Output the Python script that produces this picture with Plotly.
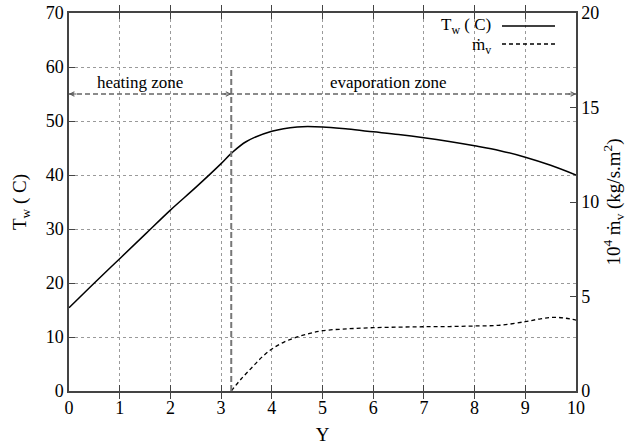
import plotly.graph_objects as go

# Wall temperature T_w (left axis, C)
tw_x = [0, 0.5, 1, 1.5, 2, 2.5, 3, 3.2, 3.5, 4, 4.5, 5, 5.5, 6, 6.5, 7, 7.5, 8, 8.5, 9, 9.5, 10]
tw_y = [15.4, 20.0, 24.5, 29.0, 33.5, 37.7, 42.1, 44.0, 46.2, 48.1, 48.9, 48.9, 48.5, 48.0, 47.5, 46.9, 46.2, 45.4, 44.5, 43.3, 41.8, 40.0]

# Evaporation rate 10^4 m_v (right axis)
mv_x = [3.2, 3.4, 3.6, 3.8, 4.0, 4.25, 4.5, 4.75, 5.0, 5.5, 6.0, 6.5, 7.0, 7.5, 8.0, 8.5, 9.0, 9.3, 9.55, 9.8, 10]
mv_y = [0, 0.65, 1.22, 1.78, 2.22, 2.6, 2.86, 3.05, 3.19, 3.29, 3.35, 3.38, 3.40, 3.41, 3.44, 3.48, 3.67, 3.82, 3.90, 3.85, 3.75]

x_ticks = list(range(0, 11))
left_ticks = list(range(0, 71, 10))
right_ticks = [0, 5, 10, 15, 20]

zone_boundary = 3.2
zone_y = 55
zone_labels = ["heating zone", "evaporation zone"]
zone_label_x = [1.4, 6.31]

FONT = "Liberation Serif, Times New Roman, DejaVu Serif, serif"
GRID = "#9a9a9a"
AXIS = "#444444"

fig = go.Figure()
fig.add_trace(go.Scatter(x=tw_x, y=tw_y, mode="lines", line=dict(color="black", width=1.5, shape="spline"),
                         showlegend=False, yaxis="y"))
fig.add_trace(go.Scatter(x=mv_x, y=mv_y, mode="lines", line=dict(color="black", width=1.3, dash="4px,3px", shape="spline"),
                         showlegend=False, yaxis="y2"))

# zone markers
fig.add_shape(type="line", x0=zone_boundary, x1=zone_boundary, y0=0, y1=59.6, xref="x", yref="y",
              line=dict(color="#777777", width=2, dash="6px,3px"))
fig.add_shape(type="line", x0=0, x1=10, y0=zone_y, y1=zone_y, xref="x", yref="y",
              line=dict(color="#666666", width=1.3, dash="5px,3px"))
for xh, ax in [(0, 9), (zone_boundary, -9), (10, -9)]:
    fig.add_annotation(x=xh, y=zone_y, xref="x", yref="y", ax=ax, ay=0, text="", showarrow=True,
                       arrowhead=5, arrowsize=0.8, arrowwidth=1.1, arrowcolor="#555555")
for lbl, lx in zip(zone_labels, zone_label_x):
    fig.add_annotation(x=lx, y=zone_y, xref="x", yref="y", text=lbl, showarrow=False, yanchor="bottom",
                       yshift=0, font=dict(family=FONT, size=17, color="black"))

# manual legend (text left of sample)
def px(p):
    return (p - 69) / 507.0
def py(p):
    return (391 - p) / 378.0

fig.add_annotation(x=px(493), y=py(26), xref="paper", yref="paper", text="T<sub>w</sub> ( C)", showarrow=False,
                   xanchor="right", yanchor="middle", font=dict(family=FONT, size=17, color="black"))
fig.add_annotation(x=px(493), y=py(46), xref="paper", yref="paper", text="ṁ<sub>v</sub>", showarrow=False,
                   xanchor="right", yanchor="middle", font=dict(family=FONT, size=17, color="black"))
fig.add_shape(type="line", x0=px(502), x1=px(555), y0=py(26), y1=py(26), xref="paper", yref="paper",
              line=dict(color="black", width=1.5))
fig.add_shape(type="line", x0=px(502), x1=px(555), y0=py(44), y1=py(44), xref="paper", yref="paper",
              line=dict(color="black", width=1.3, dash="4px,3px"))

axis_common = dict(showline=True, linecolor=AXIS, linewidth=1.5, ticks="inside", ticklen=6, tickcolor=AXIS,
                   tickfont=dict(family=FONT, size=18, color="black"), zeroline=False, automargin=False)

fig.update_layout(
    width=635, height=448,
    margin=dict(l=69, r=59, t=13, b=57),
    plot_bgcolor="white", paper_bgcolor="white",
    showlegend=False,
    font=dict(family=FONT),
    xaxis=dict(range=[0, 10], tickvals=x_ticks, showgrid=True, gridcolor=GRID, griddash="dot", gridwidth=1,
               mirror="allticks",
               title=dict(text="Y", font=dict(family=FONT, size=19, color="black"), standoff=10),
               **axis_common),
    yaxis=dict(range=[0, 70], tickvals=left_ticks, showgrid=True, gridcolor=GRID, griddash="dot", gridwidth=1,
               title=dict(text="T<sub>w</sub> ( C)", font=dict(family=FONT, size=19, color="black"), standoff=14),
               **axis_common),
    yaxis2=dict(range=[0, 20], tickvals=right_ticks, overlaying="y", side="right", showgrid=False,
                title=dict(text="10<sup>4</sup> ṁ<sub>v</sub> (kg/s.m<sup>2</sup>)",
                           font=dict(family=FONT, size=19, color="black"), standoff=8),
                **axis_common),
)

fig.write_html("out.html")
